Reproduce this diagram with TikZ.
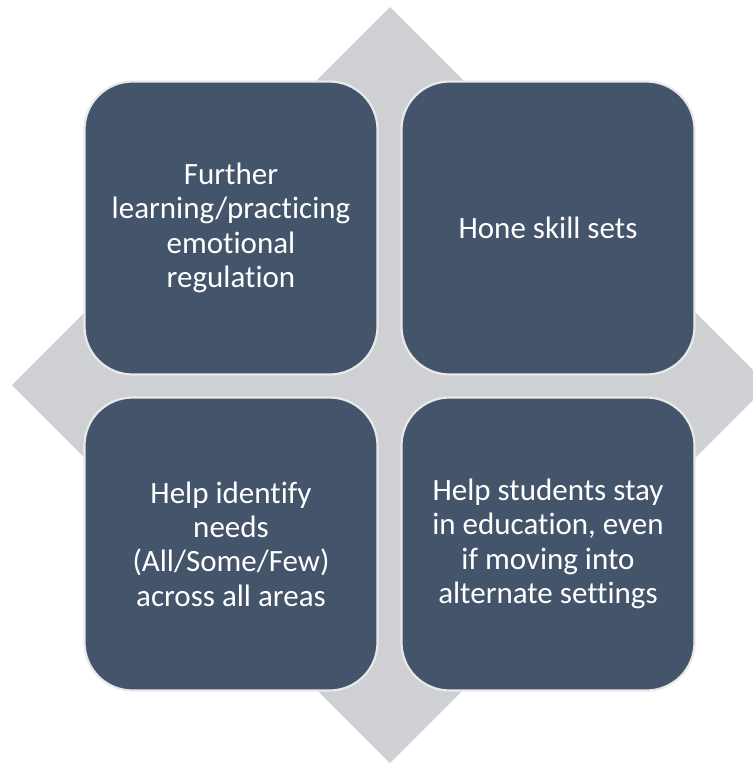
\documentclass[tikz,border=0pt]{standalone}
\usepackage{fontspec}
\setmainfont[Ligatures={NoCommon}]{Carlito}
\definecolor{boxfill}{HTML}{44546A}
\definecolor{boxline}{HTML}{E9E9EA}
\definecolor{diamondfill}{HTML}{CFD0D4}
\begin{document}
\begin{tikzpicture}[x=1pt,y=-1pt,
  box/.style={draw=boxline, line width=2.2pt, fill=boxfill, rounded corners=48pt,
    minimum width=293pt, minimum height=293pt, text=white, align=center,
    font=\fontsize{31}{34.4}\selectfont, inner sep=0pt}]
\useasboundingbox (0,0) rectangle (753,764);
\begin{scope}
\clip (0,0) rectangle (753,764);
\fill[diamondfill] (390,7) -- (768,385) -- (390,763) -- (12,385) -- cycle;
\end{scope}
\node[box] (tl) at (231,228) {Further\\learning/practicing\\emotional\\regulation};
\node[box] (tr) at (548,228) {Hone skill sets};
\node[box] (bl) at (231,544) {Help identify\\needs\\(All/Some/Few)\\across all areas};
\node[box] (br) at (548,544) {Help students stay\\in education, even\\if moving into\\alternate settings};
\end{tikzpicture}
\end{document}
